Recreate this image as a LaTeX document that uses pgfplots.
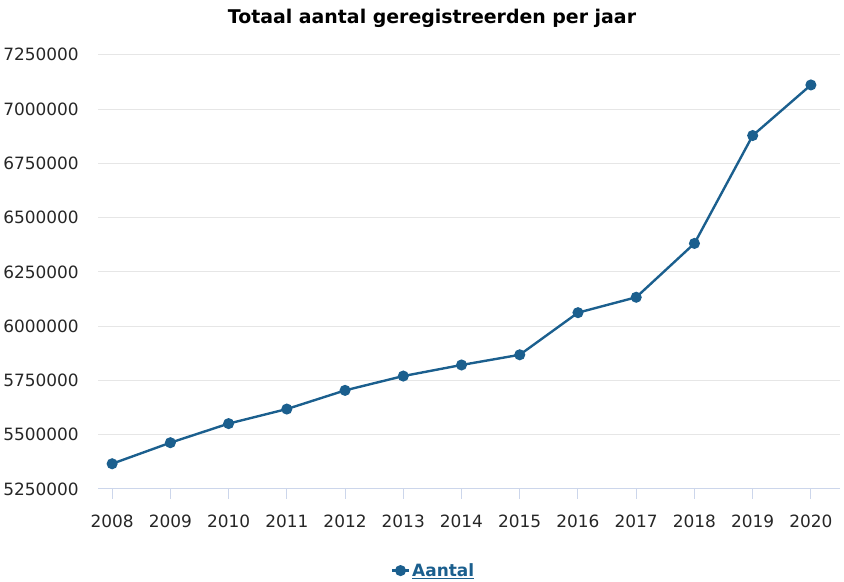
\documentclass[border=0pt]{standalone}
\usepackage{pgfplots}
\pgfplotsset{compat=1.18}
\usepackage{fontspec}
\setmainfont{DejaVu Sans}
\definecolor{series}{HTML}{1B5F8E}
\definecolor{gridc}{HTML}{E6E6E6}
\definecolor{axisc}{HTML}{CCD6EB}
\pgfplotstableread{
year value
2008 5366000
2009 5463000
2010 5551000
2011 5618000
2012 5704000
2013 5770000
2014 5821000
2015 5868000
2016 6062000
2017 6133000
2018 6381000
2019 6878000
2020 7111000
}\datatable
\begin{document}
\begin{tikzpicture}
\begin{axis}[
  scale only axis,
  width=745pt, height=436pt,
  xmin=2007.76, xmax=2020.5,
  ymin=5250000, ymax=7250000,
  ytick={5250000,5500000,...,7250000},
  xtick={2008,...,2020},
  scaled y ticks=false,
  /pgf/number format/.cd, fixed, 1000 sep={}, assume math mode=true, /pgfplots/.cd,
  axis x line*=bottom,
  axis y line*=left,
  y axis line style={draw=none},
  x axis line style={draw=axisc, line width=1pt},
  ytick style={draw=none},
  xtick style={draw=axisc, line width=1pt},
  tick align=outside,
  major tick length=10pt,
  ymajorgrids,
  grid style={draw=gridc, line width=1pt},
  tick label style={font=\fontsize{17}{20}\selectfont, text=black!85},
  yticklabel style={anchor=east, xshift=-6pt},
  xticklabel style={anchor=base, yshift=-29pt},
  title={\textbf{Totaal aantal geregistreerden per jaar}},
  title style={font=\fontsize{19}{22}\selectfont, at={(axis description cs:0.450,1)}, anchor=base, yshift=25pt},
  legend style={at={(axis description cs:0.452,0)}, anchor=center, yshift=-82pt, draw=none, font=\fontsize{17}{20}\selectfont, text=series},
  legend cell align=left,
]
\addplot[series, line width=2.4pt, mark=*, mark size=4.3pt, mark options={fill=series, draw=series}] table[x=year, y=value] {\datatable};
\addlegendentry{\underline{\textbf{Aantal}}}
\end{axis}
\path (current axis.south west) ++(-95pt,-93pt) rectangle ++(844pt,584pt);
\end{tikzpicture}
\end{document}
